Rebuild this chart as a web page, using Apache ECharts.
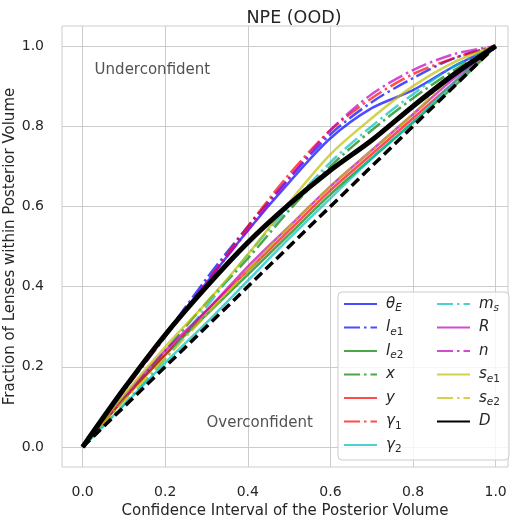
<!DOCTYPE html>
<html>
<head>
<meta charset="utf-8">
<script src="https://cdn.jsdelivr.net/npm/echarts@6/dist/echarts.min.js"></script>
<style>html,body{margin:0;padding:0;background:#fff}#c{width:519px;height:519px}</style>
</head>
<body>
<div id="c"></div>
<script>
// ---- data ----
const xValues = [0, 0.1, 0.2, 0.3, 0.4, 0.5, 0.6, 0.7, 0.8, 0.9, 1.0];
const thetaE = [0, 0.145, 0.28, 0.41, 0.54, 0.66, 0.77, 0.845, 0.89, 0.95, 1.0];
const le1    = [0, 0.145, 0.28, 0.42, 0.55, 0.67, 0.78, 0.86, 0.92, 0.97, 1.0];
const le2    = [0, 0.12, 0.23, 0.33, 0.43, 0.53, 0.63, 0.72, 0.81, 0.90, 1.0];
const xPar   = [0, 0.12, 0.24, 0.36, 0.47, 0.59, 0.70, 0.79, 0.87, 0.94, 1.0];
const yPar   = [0, 0.12, 0.23, 0.34, 0.44, 0.54, 0.64, 0.73, 0.82, 0.91, 1.0];
const gamma1 = [0, 0.14, 0.275, 0.41, 0.55, 0.68, 0.79, 0.87, 0.93, 0.97, 1.0];
const gamma2 = [0, 0.105, 0.21, 0.31, 0.415, 0.52, 0.62, 0.72, 0.81, 0.91, 1.0];
const ms     = [0, 0.105, 0.22, 0.35, 0.48, 0.60, 0.71, 0.80, 0.88, 0.95, 1.0];
const RPar   = [0, 0.125, 0.24, 0.34, 0.45, 0.55, 0.65, 0.74, 0.83, 0.92, 1.0];
const nPar   = [0, 0.14, 0.275, 0.41, 0.54, 0.67, 0.79, 0.88, 0.94, 0.98, 1.0];
const se1    = [0, 0.13, 0.25, 0.36, 0.48, 0.61, 0.73, 0.82, 0.90, 0.96, 1.0];
const se2    = [0, 0.115, 0.22, 0.33, 0.44, 0.55, 0.65, 0.74, 0.83, 0.93, 1.0];
const DPar   = [0, 0.145, 0.28, 0.40, 0.51, 0.605, 0.69, 0.765, 0.85, 0.93, 1.0];
const diagonal = [0, 1];
const diagonalX = [0, 1];
const tickValues = [0, 0.2, 0.4, 0.6, 0.8, 1.0];
const noteText = ['Underconfident', 'Overconfident'];
const notePos = [[0.029, 0.94], [0.30, 0.06]];

const seriesDefs = [
  {name: 'theta_E', vals: thetaE, color: 'rgba(0,0,255,0.7)', dash: false},
  {name: 'l_e1', vals: le1, color: 'rgba(0,0,255,0.7)', dash: true},
  {name: 'l_e2', vals: le2, color: 'rgba(0,128,0,0.7)', dash: false},
  {name: 'x', vals: xPar, color: 'rgba(0,128,0,0.7)', dash: true},
  {name: 'y', vals: yPar, color: 'rgba(255,0,0,0.7)', dash: false},
  {name: 'gamma_1', vals: gamma1, color: 'rgba(255,0,0,0.7)', dash: true},
  {name: 'gamma_2', vals: gamma2, color: 'rgba(0,191,191,0.7)', dash: false},
  {name: 'm_s', vals: ms, color: 'rgba(0,191,191,0.7)', dash: true},
  {name: 'R', vals: RPar, color: 'rgba(191,0,191,0.7)', dash: false},
  {name: 'n', vals: nPar, color: 'rgba(191,0,191,0.7)', dash: true},
  {name: 's_e1', vals: se1, color: 'rgba(191,191,0,0.7)', dash: false},
  {name: 's_e2', vals: se2, color: 'rgba(191,191,0,0.7)', dash: true},
  {name: 'D', vals: DPar, color: '#000000', dash: false, width: 5}
];

const labelMap = {
  'theta_E': '{i|θ}{si|E}',
  'l_e1': '{i|l}{si|e}{s|1}',
  'l_e2': '{i|l}{si|e}{s|2}',
  'x': '{i|x}',
  'y': '{i|y}',
  'gamma_1': '{i|γ}{s|1}',
  'gamma_2': '{i|γ}{s|2}',
  'm_s': '{i|m}{si|s}',
  'R': '{i|R}',
  'n': '{i|n}',
  's_e1': '{i|s}{si|e}{s|1}',
  's_e2': '{i|s}{si|e}{s|2}',
  'D': '{i|D}'
};

const FONT = 'DejaVu Sans';
const TXT = '#262626';
const dashPattern = [16, 4, 2.5, 4];

const series = seriesDefs.map(d => ({
  name: d.name,
  type: 'line',
  data: xValues.map((x, i) => [x, d.vals[i]]),
  showSymbol: false,
  symbol: 'none',
  smooth: 0.3,
  lineStyle: {color: d.color, width: d.width || 2.5, type: d.dash ? dashPattern : 'solid', cap: 'butt'},
  itemStyle: {color: d.color},
  emphasis: {disabled: true},
  z: d.name === 'D' ? 5 : 3
}));
series.push({
  name: 'diag',
  type: 'line',
  data: diagonalX.map((x, i) => [x, diagonal[i]]),
  showSymbol: false,
  symbol: 'none',
  lineStyle: {color: '#000', width: 3.5, type: [10, 5]},
  emphasis: {disabled: true},
  z: 4
});
series.push({
  name: 'notes',
  type: 'scatter',
  data: notePos,
  symbolSize: 0,
  silent: true,
  label: {
    show: true, position: 'right', distance: 0,
    formatter: p => noteText[p.dataIndex],
    fontFamily: FONT, fontSize: 15, color: TXT
  }
});

const rich = {
  i: {fontFamily: FONT, fontStyle: 'italic', fontSize: 15, color: TXT, lineHeight: 20, verticalAlign: 'middle'},
  si: {fontFamily: FONT, fontStyle: 'italic', fontSize: 10.5, color: TXT, lineHeight: 12, verticalAlign: 'bottom'},
  s: {fontFamily: FONT, fontSize: 10.5, color: TXT, lineHeight: 12, verticalAlign: 'bottom'}
};

const legendCommon = {
  orient: 'vertical',
  itemWidth: 33,
  itemHeight: 14,
  itemGap: 3.5,
  selectedMode: false,
  formatter: name => labelMap[name],
  itemStyle: {opacity: 0},
  textStyle: {fontFamily: FONT, fontSize: 15, color: TXT, lineHeight: 20, padding: [0, 0, 0, 4], rich: rich}
};

const chart = echarts.init(document.getElementById('c'), null, {renderer: 'canvas'});
chart.setOption({
  animation: false,
  backgroundColor: '#ffffff',
  title: {
    text: 'NPE (OOD)',
    left: 289, top: 4, textAlign: 'center',
    textStyle: {fontFamily: FONT, fontSize: 17.5, fontWeight: 'normal', color: TXT}
  },
  grid: {left: 62, right: 11, top: 26, bottom: 52, show: true, borderColor: '#cccccc', borderWidth: 1, backgroundColor: '#fff', containLabel: false, outerBoundsMode: 'none'},
  xAxis: {
    type: 'value', min: -0.05, max: 1.03,
    name: 'Confidence Interval of the Posterior Volume',
    nameLocation: 'middle', nameGap: 37, nameMoveOverlap: false,
    nameTextStyle: {fontFamily: FONT, fontSize: 15, color: TXT},
    axisLine: {show: false},
    axisTick: {show: false, customValues: tickValues},
    axisLabel: {customValues: tickValues, margin: 18, fontFamily: FONT, fontSize: 14, color: TXT, formatter: v => v.toFixed(1)},
    splitLine: {show: true, lineStyle: {color: '#cccccc', width: 1}}
  },
  yAxis: {
    type: 'value', min: -0.05, max: 1.05,
    name: 'Fraction of Lenses within Posterior Volume',
    nameLocation: 'middle', nameGap: 44, nameMoveOverlap: false,
    nameTextStyle: {fontFamily: FONT, fontSize: 15, color: TXT},
    axisLine: {show: false},
    axisTick: {show: false, customValues: tickValues},
    axisLabel: {customValues: tickValues, margin: 18, fontFamily: FONT, fontSize: 14, color: TXT, formatter: v => v.toFixed(1)},
    splitLine: {show: true, lineStyle: {color: '#cccccc', width: 1}}
  },
  legend: [
    Object.assign({}, legendCommon, {
      data: ['theta_E', 'l_e1', 'l_e2', 'x', 'y', 'gamma_1', 'gamma_2'],
      left: 338, top: 292,
      padding: [2, 5, 5, 5],
      backgroundColor: 'rgba(255,255,255,0.8)',
      borderColor: '#cccccc', borderWidth: 1, borderRadius: 4,
      textStyle: Object.assign({}, legendCommon.textStyle, {width: 118}),
      z: 10
    }),
    Object.assign({}, legendCommon, {
      data: ['m_s', 'R', 'n', 's_e1', 's_e2', 'D'],
      left: 431, top: 292,
      padding: [2, 5, 5, 5],
      z: 11
    })
  ],
  series: series
});
</script>
</body>
</html>
